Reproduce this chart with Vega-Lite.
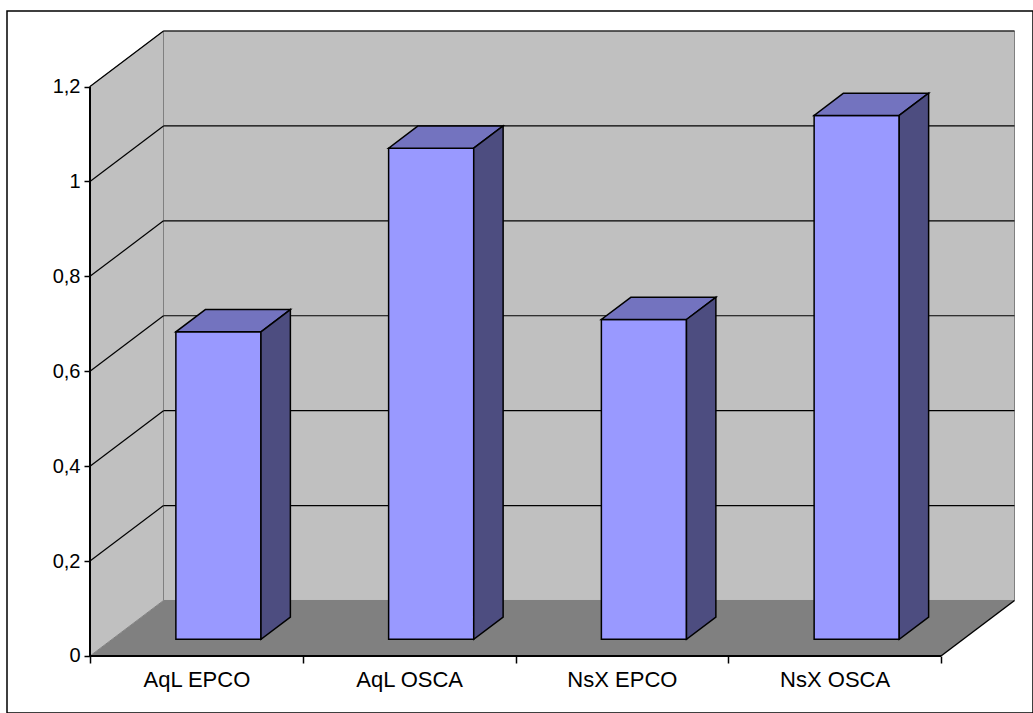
{
  "$schema": "https://vega.github.io/schema/vega-lite/v6.json",
  "width": 1026,
  "height": 702,
  "autosize": "none",
  "padding": {"left": 7, "top": 11, "right": 0, "bottom": 0},
  "background": "white",
  "config": {"view": {"stroke": "black", "strokeWidth": 1.5}},
  "params": [
    {"name": "dx", "value": 0.34548},
    {"name": "dy", "value": 0.11695},
    {"name": "zf", "value": 0.3},
    {"name": "zb", "value": 0.7},
    {"name": "hw", "value": 0.2},
    {"name": "top", "value": 1.2},
    {"name": "ncat", "value": 4}
  ],
  "datasets": {
    "scores": [
      {"cat": "AqL EPCO", "value": 0.648},
      {"cat": "AqL OSCA", "value": 1.035},
      {"cat": "NsX EPCO", "value": 0.674},
      {"cat": "NsX OSCA", "value": 1.104}
    ],
    "depth": [{"t": 0}, {"t": 1}],
    "levels": [{"v": 0.2}, {"v": 0.4}, {"v": 0.6}, {"v": 0.8}, {"v": 1.0}, {"v": 1.2}]
  },
  "layer": [
    {
      "data": {"name": "depth"},
      "transform": [
        {"calculate": "datum.t * dy", "as": "fy"},
        {"calculate": "datum.t * dx", "as": "fx"},
        {"calculate": "ncat + datum.t * dx", "as": "fx2"}
      ],
      "mark": {"type": "area", "orient": "horizontal", "fill": "#808080", "strokeWidth": 0},
      "encoding": {
        "y": {
          "field": "fy", "type": "quantitative",
          "scale": {"domain": [-0.12011, 1.35909], "nice": false, "zero": false},
          "axis": {
            "title": null, "orient": "left", "offset": -83, "domain": false, "grid": false,
            "values": [0, 0.2, 0.4, 0.6, 0.8, 1, 1.2],
            "tickSize": 6, "tickColor": "black", "tickWidth": 1.5,
            "labelExpr": "replace(format(datum.value, '.1~f'), '.', ',')",
            "labelFont": "Liberation Sans", "labelFontSize": 20, "labelColor": "black", "labelPadding": 4
          }
        },
        "x": {
          "field": "fx", "type": "quantitative",
          "scale": {"domain": [-0.39013, 4.43243], "nice": false, "zero": false},
          "axis": {
            "title": null, "orient": "bottom", "offset": -57, "domain": false, "grid": false,
            "values": [0, 0.5, 1, 1.5, 2, 2.5, 3, 3.5, 4],
            "tickSize": 7, "tickColor": "black", "tickWidth": 1.5,
            "tickOpacity": {"condition": {"test": "datum.value % 1 === 0", "value": 1}, "value": 0},
            "labelExpr": "datum.value % 1 === 0 ? '' : ['AqL EPCO', 'AqL OSCA', 'NsX EPCO', 'NsX OSCA'][floor(datum.value)]",
            "labelOverlap": false, "labelFlush": false,
            "labelFont": "Liberation Sans", "labelFontSize": 22, "labelColor": "black", "labelPadding": 6
          }
        },
        "x2": {"field": "fx2"}
      }
    },
    {
      "data": {"name": "depth"},
      "transform": [
        {"calculate": "datum.t * dx", "as": "wx"},
        {"calculate": "top + datum.t * dy", "as": "wy"},
        {"calculate": "datum.t * dy", "as": "wy2"}
      ],
      "mark": {"type": "area", "orient": "vertical", "fill": "#C0C0C0", "stroke": "#808080", "strokeWidth": 1},
      "encoding": {
        "x": {"field": "wx", "type": "quantitative", "axis": {"title": null}},
        "y": {"field": "wy", "type": "quantitative", "axis": {"title": null}},
        "y2": {"field": "wy2"}
      }
    },
    {
      "data": {"name": "depth"},
      "transform": [
        {"filter": "datum.t === 1"},
        {"calculate": "datum.t * dx", "as": "bx"},
        {"calculate": "ncat + datum.t * dx", "as": "bx2"},
        {"calculate": "datum.t * dy", "as": "by"},
        {"calculate": "top + datum.t * dy", "as": "by2"}
      ],
      "mark": {"type": "rect", "fill": "#C0C0C0", "stroke": "#808080", "strokeWidth": 1},
      "encoding": {
        "x": {"field": "bx", "type": "quantitative", "axis": {"title": null}},
        "x2": {"field": "bx2"},
        "y": {"field": "by", "type": "quantitative", "axis": {"title": null}},
        "y2": {"field": "by2"}
      }
    },
    {
      "data": {"name": "levels"},
      "transform": [
        {"calculate": "0", "as": "gx"},
        {"calculate": "dx", "as": "gx2"},
        {"calculate": "datum.v + dy", "as": "gy2"}
      ],
      "mark": {"type": "rule", "stroke": "black", "strokeWidth": 1.2},
      "encoding": {
        "x": {"field": "gx", "type": "quantitative", "axis": {"title": null}},
        "x2": {"field": "gx2"},
        "y": {"field": "v", "type": "quantitative", "axis": {"title": null}},
        "y2": {"field": "gy2"}
      }
    },
    {
      "data": {"name": "levels"},
      "transform": [
        {"calculate": "dx", "as": "gx"},
        {"calculate": "ncat + dx", "as": "gx2"},
        {"calculate": "datum.v + dy", "as": "gy"}
      ],
      "mark": {"type": "rule", "stroke": "black", "strokeWidth": 1.2},
      "encoding": {
        "x": {"field": "gx", "type": "quantitative", "axis": {"title": null}},
        "x2": {"field": "gx2"},
        "y": {"field": "gy", "type": "quantitative", "axis": {"title": null}}
      }
    },
    {
      "data": {"name": "depth"},
      "transform": [
        {"filter": "datum.t === 0"},
        {"calculate": "0", "as": "ex"},
        {"calculate": "ncat", "as": "ex2"},
        {"calculate": "0", "as": "ey"}
      ],
      "mark": {"type": "rule", "stroke": "black", "strokeWidth": 2},
      "encoding": {
        "x": {"field": "ex", "type": "quantitative", "axis": {"title": null}},
        "x2": {"field": "ex2"},
        "y": {"field": "ey", "type": "quantitative", "axis": {"title": null}}
      }
    },
    {
      "data": {"name": "depth"},
      "transform": [
        {"filter": "datum.t === 0"},
        {"calculate": "ncat", "as": "ex"},
        {"calculate": "ncat + dx", "as": "ex2"},
        {"calculate": "0", "as": "ey"},
        {"calculate": "dy", "as": "ey2"}
      ],
      "mark": {"type": "rule", "stroke": "black", "strokeWidth": 1.5},
      "encoding": {
        "x": {"field": "ex", "type": "quantitative", "axis": {"title": null}},
        "x2": {"field": "ex2"},
        "y": {"field": "ey", "type": "quantitative", "axis": {"title": null}},
        "y2": {"field": "ey2"}
      }
    },
    {
      "data": {"name": "depth"},
      "transform": [
        {"filter": "datum.t === 0"},
        {"calculate": "0", "as": "ex"},
        {"calculate": "0", "as": "ey"},
        {"calculate": "top", "as": "ey2"}
      ],
      "mark": {"type": "rule", "stroke": "black", "strokeWidth": 2},
      "encoding": {
        "x": {"field": "ex", "type": "quantitative", "axis": {"title": null}},
        "y": {"field": "ey", "type": "quantitative", "axis": {"title": null}},
        "y2": {"field": "ey2"}
      }
    },
    {
      "data": {"name": "scores"},
      "transform": [
        {"window": [{"op": "row_number", "as": "rn"}]},
        {"calculate": "datum.rn - 0.5 - hw + zf * dx", "as": "xl"},
        {"calculate": "datum.rn - 0.5 + hw + zf * dx", "as": "xr"},
        {"calculate": "zf * dy", "as": "yb"},
        {"calculate": "datum.value + zf * dy", "as": "yt"}
      ],
      "mark": {"type": "rect", "fill": "#9999FF", "stroke": "black", "strokeWidth": 1.5},
      "encoding": {
        "x": {"field": "xl", "type": "quantitative", "axis": {"title": null}},
        "x2": {"field": "xr"},
        "y": {"field": "yt", "type": "quantitative", "axis": {"title": null}},
        "y2": {"field": "yb"}
      }
    },
    {
      "data": {"name": "scores"},
      "transform": [
        {"window": [{"op": "row_number", "as": "rn"}]},
        {"calculate": "[zf, zb]", "as": "ts"},
        {"flatten": ["ts"]},
        {"calculate": "datum.rn - 0.5 - hw + datum.ts * dx", "as": "ax"},
        {"calculate": "datum.rn - 0.5 + hw + datum.ts * dx", "as": "bx"},
        {"calculate": "datum.value + datum.ts * dy", "as": "ay"}
      ],
      "mark": {"type": "area", "orient": "horizontal", "fill": "#7373BF", "stroke": "black", "strokeWidth": 1.5},
      "encoding": {
        "y": {"field": "ay", "type": "quantitative", "axis": {"title": null}},
        "x": {"field": "ax", "type": "quantitative", "axis": {"title": null}},
        "x2": {"field": "bx"},
        "detail": {"field": "cat", "type": "nominal"}
      }
    },
    {
      "data": {"name": "scores"},
      "transform": [
        {"window": [{"op": "row_number", "as": "rn"}]},
        {"calculate": "[zf, zb]", "as": "ts"},
        {"flatten": ["ts"]},
        {"calculate": "datum.rn - 0.5 + hw + datum.ts * dx", "as": "sx"},
        {"calculate": "datum.value + datum.ts * dy", "as": "sy"},
        {"calculate": "datum.ts * dy", "as": "sy2"}
      ],
      "mark": {"type": "area", "orient": "vertical", "fill": "#4D4D80", "stroke": "black", "strokeWidth": 1.5},
      "encoding": {
        "x": {"field": "sx", "type": "quantitative", "axis": {"title": null}},
        "y": {"field": "sy", "type": "quantitative", "axis": {"title": null}},
        "y2": {"field": "sy2"},
        "detail": {"field": "cat", "type": "nominal"}
      }
    }
  ]
}
